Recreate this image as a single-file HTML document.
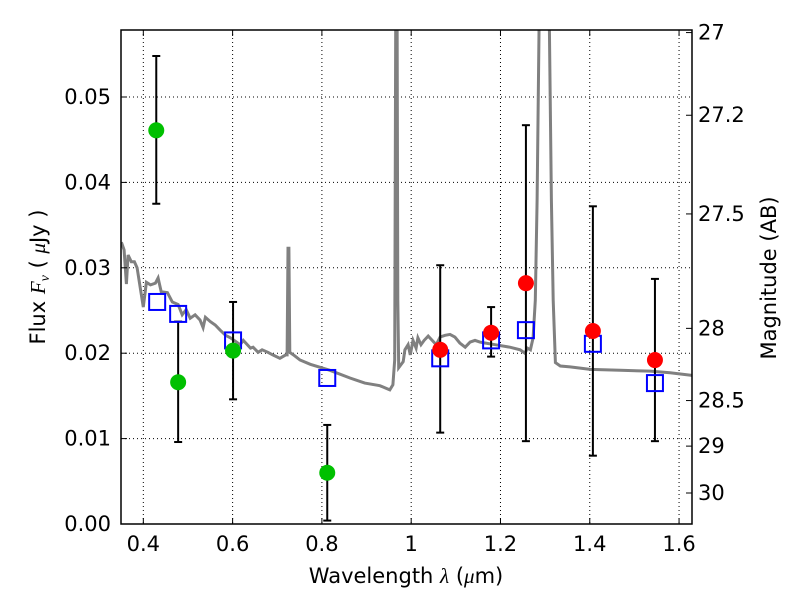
<!DOCTYPE html>
<html><head><meta charset="utf-8"><style>
body{margin:0;background:#fff}
svg text{font-family:"DejaVu Sans","Liberation Sans",sans-serif;fill:#000}
</style></head><body>
<svg id="c" width="800" height="600" xmlns="http://www.w3.org/2000/svg"></svg>
<script>
const specWl=[0.351,0.357,0.362,0.366,0.373,0.380,0.386,0.400,0.407,0.416,0.427,0.433,0.440,0.454,0.465,0.478,0.487,0.496,0.505,0.516,0.527,0.534,0.539,0.550,0.561,0.572,0.584,0.595,0.606,0.617,0.624,0.640,0.646,0.657,0.666,0.679,0.690,0.706,0.719,0.722,0.724,0.726,0.728,0.739,0.751,0.774,0.818,0.863,0.896,0.930,0.952,0.959,0.963,0.966,0.968,0.970,0.972,0.982,0.986,0.993,0.998,1.004,1.011,1.015,1.022,1.029,1.038,1.047,1.056,1.065,1.076,1.087,1.098,1.109,1.121,1.132,1.143,1.154,1.165,1.188,1.221,1.244,1.255,1.260,1.267,1.273,1.278,1.282,1.289,1.307,1.314,1.318,1.323,1.334,1.356,1.401,1.468,1.535,1.580,1.629];
const specF=[0.0330,0.0321,0.0281,0.0315,0.0307,0.0307,0.0300,0.0254,0.0283,0.0280,0.0282,0.0288,0.0272,0.0271,0.0260,0.0257,0.0245,0.0251,0.0241,0.0245,0.0239,0.0230,0.0242,0.0237,0.0233,0.0227,0.0221,0.0218,0.0214,0.0210,0.0215,0.0206,0.0207,0.0201,0.0204,0.0201,0.0198,0.0194,0.0198,0.0198,0.0323,0.0323,0.0201,0.0197,0.0192,0.0187,0.0180,0.0171,0.0165,0.0162,0.0157,0.0163,0.0192,0.07,0.07,0.0262,0.0183,0.0190,0.0204,0.0210,0.0198,0.0215,0.0206,0.0218,0.0210,0.0215,0.0220,0.0215,0.0210,0.0219,0.0221,0.0222,0.0219,0.0212,0.0207,0.0213,0.0215,0.0213,0.0212,0.0210,0.0207,0.0204,0.0200,0.0206,0.0204,0.0218,0.0262,0.0379,0.07,0.07,0.0379,0.0262,0.0189,0.0185,0.0184,0.0181,0.0180,0.0179,0.0177,0.0174];
const greenWl=[0.429,0.478,0.601,0.812];
const greenF=[0.0461,0.0166,0.0203,0.0060];
const greenHi=[0.0548,0.0237,0.0260,0.0116];
const greenLo=[0.0375,0.0096,0.0146,0.0004];
const redWl=[1.065,1.179,1.257,1.407,1.546];
const redF=[0.0204,0.0224,0.0282,0.0226,0.0192];
const redHi=[0.0303,0.0254,0.0467,0.0372,0.0287];
const redLo=[0.0107,0.0196,0.0097,0.0080,0.0097];
const modelWl=[0.431,0.478,0.601,0.812,1.065,1.179,1.257,1.407,1.546];
const modelF=[0.0260,0.0246,0.0215,0.0171,0.0194,0.0215,0.0227,0.0211,0.0165];
const xTicks=[0.4,0.6,0.8,1.0,1.2,1.4,1.6];
const xTickLabels=["0.4","0.6","0.8","1","1.2","1.4","1.6"];
const yTicks=[0,0.01,0.02,0.03,0.04,0.05];
const yTickLabels=["0.00","0.01","0.02","0.03","0.04","0.05"];
const magTicks=[27,27.2,27.5,28,28.5,29,30];
const magTickLabels=["27","27.2","27.5","28","28.5","29","30"];

const L=121,R=692,T=30,B=524;
const X=v=>L+(v-0.35)/(1.629-0.35)*(R-L);
const Y=v=>B-v*8540;
const M=m=>Y(Math.pow(10,(23.9-m)/2.5));
const svg=document.getElementById('c');
const NS='http://www.w3.org/2000/svg';
function mk(tag,at,parent){const e=document.createElementNS(NS,tag);for(const k in at)e.setAttribute(k,at[k]);(parent||svg).appendChild(e);return e;}
const defs=mk('defs',{});const cp=mk('clipPath',{id:'clip'},defs);mk('rect',{x:L,y:T,width:R-L,height:B-T},cp);

xTicks.forEach(t=>{const g=mk('line',{x1:X(t),x2:X(t),y1:T,y2:B,stroke:'#000','stroke-width':1,'stroke-dasharray':'1,3'});

});
yTicks.forEach(t=>{const g=mk('line',{x1:L,x2:R,y1:Y(t),y2:Y(t),stroke:'#000','stroke-width':1,'stroke-dasharray':'1,3'});

});

let d=specWl.map((w,i)=>(i?'L':'M')+X(w).toFixed(1)+','+Y(specF[i]).toFixed(1)).join('');
const sp=mk('path',{d:d,fill:'none',stroke:'#808080','stroke-width':3,'clip-path':'url(#clip)'});



function err(wl,hi,lo,name){wl.forEach((w,i)=>{const g=mk('g',{stroke:'#000','stroke-width':2});


const x=X(w);mk('line',{x1:x,x2:x,y1:Y(hi[i]),y2:Y(lo[i])},g);
mk('line',{x1:x-4,x2:x+4,y1:Y(hi[i]),y2:Y(hi[i])},g);
mk('line',{x1:x-4,x2:x+4,y1:Y(lo[i]),y2:Y(lo[i])},g);});}
err(greenWl,greenHi,greenLo,'green-error-bar');
err(redWl,redHi,redLo,'red-error-bar');

modelWl.forEach((w,i)=>{const s=mk('rect',{x:X(w)-8,y:Y(modelF[i])-8,width:16,height:16,fill:'none',stroke:'#0000ff','stroke-width':2});

});
greenWl.forEach((w,i)=>{const c=mk('circle',{cx:X(w),cy:Y(greenF[i]),r:8,fill:'#00c000'});

});
redWl.forEach((w,i)=>{const c=mk('circle',{cx:X(w),cy:Y(redF[i]),r:8,fill:'#ff0000'});

});

const fr=mk('rect',{x:L,y:T,width:R-L,height:B-T,fill:'none',stroke:'#000','stroke-width':1.5});



xTicks.forEach((t,i)=>{mk('line',{x1:X(t),x2:X(t),y1:B,y2:B-6,stroke:'#000'});mk('line',{x1:X(t),x2:X(t),y1:T,y2:T+6,stroke:'#000'});
const tx=mk('text',{x:X(t),y:B+27,'font-size':21,'text-anchor':'middle'});tx.textContent=xTickLabels[i];

});
yTicks.forEach((t,i)=>{mk('line',{x1:L,x2:L+6,y1:Y(t),y2:Y(t),stroke:'#000'});
const tx=mk('text',{x:L-10,y:Y(t)+7,'font-size':21,'text-anchor':'end'});tx.textContent=yTickLabels[i];

});
magTicks.forEach((m,i)=>{mk('line',{x1:R,x2:R-6,y1:M(m),y2:M(m),stroke:'#000'});
const tx=mk('text',{x:R+6,y:M(m)+7,'font-size':21});tx.textContent=magTickLabels[i];

});

let t1=mk('text',{x:406,y:583,'font-size':21,'text-anchor':'middle'});t1.innerHTML='Wavelength  <tspan font-family="Liberation Serif" font-style="italic">λ</tspan> (<tspan font-family="Liberation Serif" font-style="italic">μ</tspan>m)';


let t2=mk('text',{x:0,y:0,'font-size':21,'text-anchor':'middle',transform:'translate(45,277) rotate(-90)'});t2.innerHTML='Flux  <tspan font-family="Liberation Serif" font-style="italic">F</tspan><tspan font-family="Liberation Serif" font-style="italic" font-size="14" dy="4">ν</tspan><tspan dy="-4">  ( </tspan><tspan font-family="Liberation Serif" font-style="italic">μ</tspan>Jy )';


let t3=mk('text',{x:0,y:0,'font-size':21,'text-anchor':'middle',transform:'translate(776,278) rotate(-90)'});t3.textContent='Magnitude (AB)';


</script>
</body></html>
